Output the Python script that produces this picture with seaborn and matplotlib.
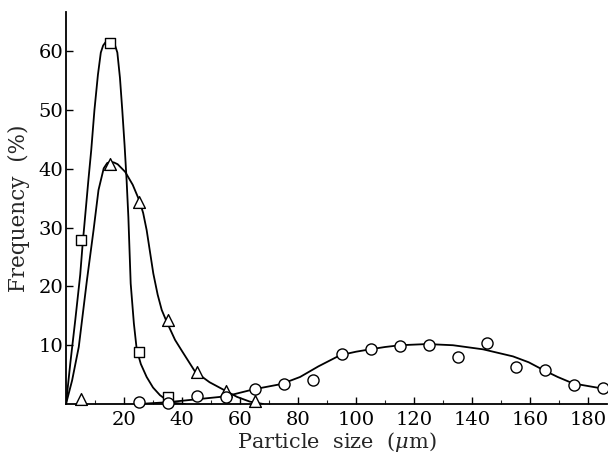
import matplotlib
matplotlib.use("Agg")
import matplotlib.pyplot as plt
import seaborn as sns
import pandas as pd
from matplotlib.ticker import MultipleLocator

# ---- measured points ----
sq_x = [5, 15, 25, 35]
sq_y = [27.9, 61.4, 8.8, 1.2]

tri_x = [5, 15, 25, 35, 45, 55, 65]
tri_y = [0.9, 40.9, 34.4, 14.3, 5.4, 2.2, 0.5]

cir_x = [25, 35, 45, 55, 65, 75, 85, 95, 105, 115, 125, 135, 145, 155, 165, 175, 185]
cir_y = [0.3, 0.2, 1.4, 1.2, 2.5, 3.4, 4.1, 8.5, 9.3, 9.9, 10.1, 8.0, 10.4, 6.3, 5.8, 3.2, 2.8]

# ---- fitted curves ----
sq_cx = [0, 1.5, 3.2, 4.9, 5.7, 7.7, 8.7, 9.8, 11.0, 12.0, 12.8, 14.0, 15.2, 16.6, 17.7,
         18.6, 19.4, 20.2, 20.9, 21.5, 22.3, 23.4, 24.4, 25.8, 27.8, 30.0, 32.4, 34.6, 36.9, 41.0]
sq_cy = [0, 7.0, 14.3, 22.0, 27.0, 38.0, 43.2, 50.0, 56.0, 59.8, 61.0, 61.8, 62.0, 61.5, 59.8,
         55.5, 50.0, 44.0, 38.0, 31.8, 20.5, 13.7, 9.2, 6.8, 4.6, 2.8, 1.5, 0.7, 0.2, 0]

tri_cx = [0, 2.1, 4.4, 7.2, 9.5, 11.2, 13.0, 14.2, 15.3, 16.5, 17.8, 20.4, 23.0, 25.3, 26.6,
          27.8, 30.1, 31.6, 33.0, 34.7, 37.6, 40.0, 44.5, 49.5, 54.8, 59.0, 63.4, 68.0]
tri_cy = [0, 4.0, 9.7, 21.0, 29.6, 36.4, 40.1, 41.0, 41.2, 41.1, 40.8, 39.5, 37.3, 34.6, 32.5,
          29.6, 22.2, 18.6, 16.0, 14.0, 10.9, 9.0, 5.5, 3.7, 2.3, 1.2, 0.4, 0]

cir_cx = [25, 35, 45, 55, 64.7, 74.3, 80.7, 87.0, 94.5, 100.0, 104.8, 110.0, 115.2, 124.5,
          133.4, 143.8, 154.1, 159.5, 164.5, 169.5, 174.8, 184.1]
cir_cy = [0, 0.3, 0.8, 1.3, 2.5, 3.4, 4.6, 6.4, 8.3, 8.9, 9.3, 9.7, 10.0, 10.2,
          10.0, 9.3, 8.1, 7.1, 5.8, 4.6, 3.5, 2.7]

x_ticks = [20, 40, 60, 80, 100, 120, 140, 160, 180]
y_ticks = [10, 20, 30, 40, 50, 60]

sns.set_style("ticks")
plt.rcParams["font.family"] = ["DejaVu Serif"]
plt.rcParams["mathtext.fontset"] = "dejavuserif"

fig = plt.figure(figsize=(6.08, 4.59), dpi=100)
ax = fig.add_axes([66 / 608, 55 / 459, 541 / 608, 392 / 459])

lw = 1.3
for cx, cy in [(sq_cx, sq_cy), (tri_cx, tri_cy), (cir_cx, cir_cy)]:
    sns.lineplot(x=cx, y=cy, ax=ax, color="black", linewidth=lw, sort=False,
                 estimator=None, zorder=2)

kw = dict(color="white", edgecolor="black", linewidth=1.0, zorder=3, clip_on=False, ax=ax)
sns.scatterplot(x=sq_x, y=sq_y, marker="s", s=52, **kw)
sns.scatterplot(x=tri_x, y=tri_y, marker="^", s=72, **kw)
sns.scatterplot(x=cir_x, y=cir_y, marker="o", s=64, **kw)

ax.set_xlim(0, 186.5)
ax.set_ylim(0, 66.7)
ax.set_xticks(x_ticks)
ax.set_xticklabels([str(v) for v in x_ticks])
ax.set_yticks(y_ticks)
ax.set_yticklabels([str(v) for v in y_ticks])
ax.xaxis.set_minor_locator(MultipleLocator(10))

ax.tick_params(axis="both", which="major", direction="in", length=5, width=1.0,
               labelsize=14, colors="black")
ax.tick_params(axis="x", which="minor", direction="in", length=3, width=0.8)
ax.tick_params(axis="y", which="major", pad=2)
ax.tick_params(axis="x", which="major", pad=5)

for s in ["top", "right"]:
    ax.spines[s].set_visible(False)
for s in ["left", "bottom"]:
    ax.spines[s].set_linewidth(1.3)
    ax.spines[s].set_color("black")

ax.set_xlabel("Particle  size  ($\\mu$m)", fontsize=15, labelpad=1)
ax.set_ylabel("Frequency  (%)", fontsize=15.5, labelpad=6)

fig.savefig("out.png", dpi=100, facecolor="white")
